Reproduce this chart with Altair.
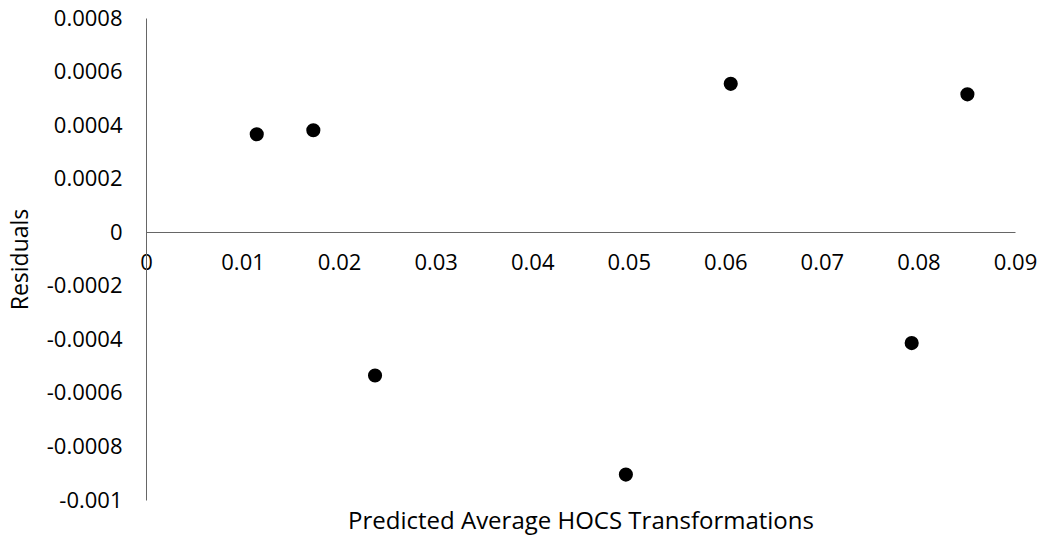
import altair as alt
import pandas as pd

predicted = [0.01147, 0.01733, 0.02372, 0.0497, 0.06056, 0.0793, 0.08507]
residuals = [0.000366, 0.000381, -0.000535, -0.000905, 0.000554, -0.000414, 0.000515]
x_ticks = [0, 0.01, 0.02, 0.03, 0.04, 0.05, 0.06, 0.07, 0.08, 0.09]
y_ticks = [-0.001, -0.0008, -0.0006, -0.0004, -0.0002, 0, 0.0002, 0.0004, 0.0006, 0.0008]

df = pd.DataFrame({"predicted": predicted, "residual": residuals})

FONT = "Open Sans"

chart = alt.Chart(df).mark_circle(size=200, color="black", opacity=1).encode(
    x=alt.X(
        "predicted:Q",
        scale=alt.Scale(domain=[0, 0.09], nice=False, zero=False),
        axis=alt.Axis(
            values=x_ticks,
            labelExpr="toString(datum.value)",
            offset=-268,
            title="Predicted Average HOCS Transformations",
            titleY=289,
            titleBaseline="middle",
            titleFont=FONT,
            titleFontSize=24,
            titleFontWeight="normal",
            titleColor="black",
            grid=False,
            ticks=False,
            tickSize=0,
            labelPadding=20,
            labelFlush=False,
            labelOverlap=False,
            labelFont=FONT,
            labelFontSize=22,
            labelColor="black",
            labelBaseline="top",
            domainColor="#666",
            domainWidth=1,
        ),
    ),
    y=alt.Y(
        "residual:Q",
        scale=alt.Scale(domain=[-0.001, 0.0008], nice=False, zero=False),
        axis=alt.Axis(
            values=y_ticks,
            labelExpr="toString(datum.value)",
            title="Residuals",
            titleX=-126,
            titleY=241,
            titleAngle=270,
            titleAlign="center",
            titleBaseline="middle",
            titleFont=FONT,
            titleFontSize=23,
            titleFontWeight="normal",
            titleColor="black",
            grid=False,
            ticks=False,
            tickSize=0,
            labelPadding=24,
            labelFlush=False,
            labelOverlap=False,
            labelFont=FONT,
            labelFontSize=22,
            labelColor="black",
            labelBaseline="middle",
            domainColor="#666",
            domainWidth=1,
        ),
    ),
).properties(
    width=869,
    height=482,
    padding={"left": 146, "top": 18, "right": 38, "bottom": 36},
    autosize=alt.AutoSizeParams(type="none"),
    background="white",
).configure_view(strokeWidth=0, stroke="transparent")

chart.save("out.html", embed_options={"renderer": "svg", "actions": False})
